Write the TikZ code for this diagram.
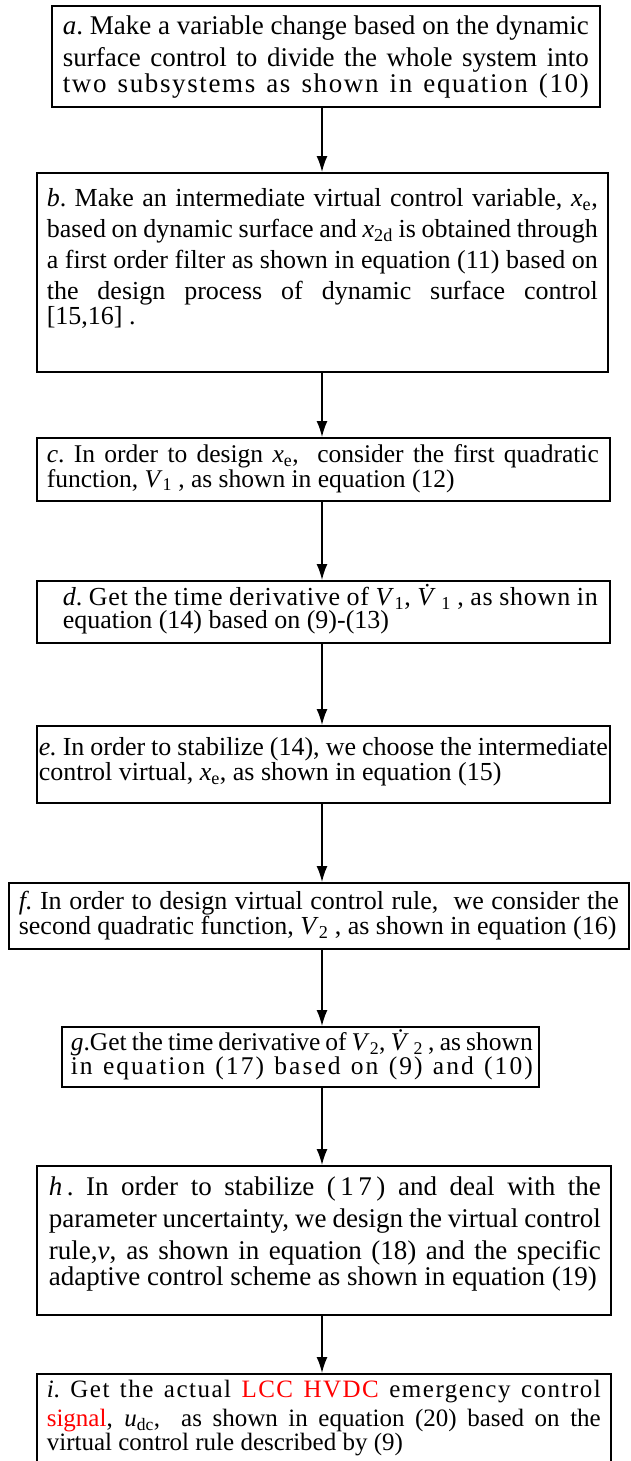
\documentclass[tikz,border=0pt]{standalone}
\usepackage{fontspec}
\setmainfont{Liberation Serif}
\usetikzlibrary{arrows.meta}
\newlength\bxlp
\newlength\bxtw
\newcommand\J[1]{\hspace*{\bxlp}\makebox[\bxtw][s]{#1}}
\newcommand\Lf[1]{\hspace*{\bxlp}\mbox{#1}}
\newcommand\LS[2]{{\addfontfeature{LetterSpace=#1}#2}}
\newcommand\Vd[1]{\textit{\.{V}}\textsubscript{#1}}
\newcommand\vr[2]{\textit{#1}\textsubscript{#2}}
\newcommand\fs[4]{\fontsize{#1}{#2}\selectfont
  \spaceskip=0.25em plus 1.5em minus 0.08em\relax
  \xspaceskip=\spaceskip
  \setlength\bxlp{#3}\setlength\bxtw{#4}}
\begin{document}
\begin{tikzpicture}[x=1pt,y=-1pt]
\tikzset{
  box/.style={draw, line width=1.6pt, rectangle, anchor=north west,
    inner sep=0pt, align=left},
  arr/.style={line width=1.5pt, -{Latex[length=16pt,width=11pt]}}
}
\useasboundingbox (0,0) rectangle (630,1461);
\clip (0,0) rectangle (630,1461);
\coordinate (X) at (322,0);

\node[box, text width=548pt, text height=29pt, text depth=72pt] (a) at (51,5)
 {\fs{27}{32}{11pt}{526pt}%
  \J{\textit{a}. Make a variable change based on the dynamic}\\
  \J{surface control to divide the whole system into}\\
  \J{\LS{6}{two subsystems as shown in equation (10)}}};

\node[box, text width=571pt, text height=34pt, text depth=165pt] (b) at (36,172)
 {\fs{26}{31}{10pt}{551pt}%
  \J{\textit{b}. Make an intermediate virtual control variable, \vr{x}{e},}\\
  \J{based on dynamic surface and \vr{x}{2d} is obtained through}\\
  \J{a first order filter as shown in equation (11) based on}\\
  \J{the design process of dynamic surface control}\\
  \Lf{[15,16] .}};

\node[box, text width=573pt, text height=25pt, text depth=38pt] (c) at (36,437)
 {\fs{25.5}{31}{10pt}{552pt}%
  \J{\textit{c}. In order to design \vr{x}{e},\ \ consider the first quadratic}\\
  \Lf{function, \vr{V}{1} , as shown in equation (12)}};

\node[box, text width=573pt, text height=25pt, text depth=37pt] (d) at (36,580)
 {\fs{26}{31}{26pt}{535pt}%
  \J{\LS{3}{\textit{d}. Get the time derivative of \vr{V}{1}, \Vd{1} , as shown in}}\\
  \Lf{equation (14) based on (9)-(13)}};

\node[box, text width=573pt, text height=30pt, text depth=47pt] (e) at (36,725)
 {\fs{26}{32}{2pt}{569pt}%
  \J{\textit{e.} In order to stabilize (14), we choose the intermediate}\\
  \Lf{control virtual, \vr{x}{e}, as shown in equation (15)}};

\node[box, text width=620pt, text height=27pt, text depth=39pt] (f) at (8,882)
 {\fs{26}{32}{10pt}{600pt}%
  \J{\textit{f.} In order to design virtual control rule,\ \ we consider the}\\
  \Lf{second quadratic function, \vr{V}{2} , as shown in equation (16)}};

\node[box, text width=477pt, text height=24pt, text depth=36pt] (g) at (61,1026)
 {\fs{25.5}{31}{9pt}{462pt}%
  \J{\textit{g}.Get the time derivative of \vr{V}{2}, \Vd{2} , as shown}\\
  \J{\LS{8}{in equation (17) based on (9) and (10)}}};

\node[box, text width=574pt, text height=30pt, text depth=119pt] (h) at (36,1165)
 {\fs{27}{32}{12pt}{552pt}%
  \J{\textit{h}\,. In order to stabilize (\,1\,7\,) and deal with the}\\
  \J{parameter uncertainty, we design the virtual control}\\
  \J{rule,\textit{v}, as shown in equation (18) and the specific}\\
  \Lf{adaptive control scheme as shown in equation (19)}};

\node[box, text width=574pt, text height=24pt, text depth=90pt] (i) at (36,1373)
 {\fs{25}{29}{10pt}{554pt}%
  \J{\LS{6}{\textit{i}. Get the actual \textcolor{red}{LCC HVDC} emergency control}}\\
  \J{\textcolor{red}{signal}, \vr{u}{dc},\ \ as shown in equation (20) based on the}\\
  \Lf{virtual control rule described by (9)}};

\draw[arr] (a.south -| X) -- (b.north -| X);
\draw[arr] (b.south -| X) -- (c.north -| X);
\draw[arr] (c.south -| X) -- (d.north -| X);
\draw[arr] (d.south -| X) -- (e.north -| X);
\draw[arr] (e.south -| X) -- (f.north -| X);
\draw[arr] (f.south -| X) -- (g.north -| X);
\draw[arr] (g.south -| X) -- (h.north -| X);
\draw[arr] (h.south -| X) -- (i.north -| X);
\end{tikzpicture}
\end{document}
